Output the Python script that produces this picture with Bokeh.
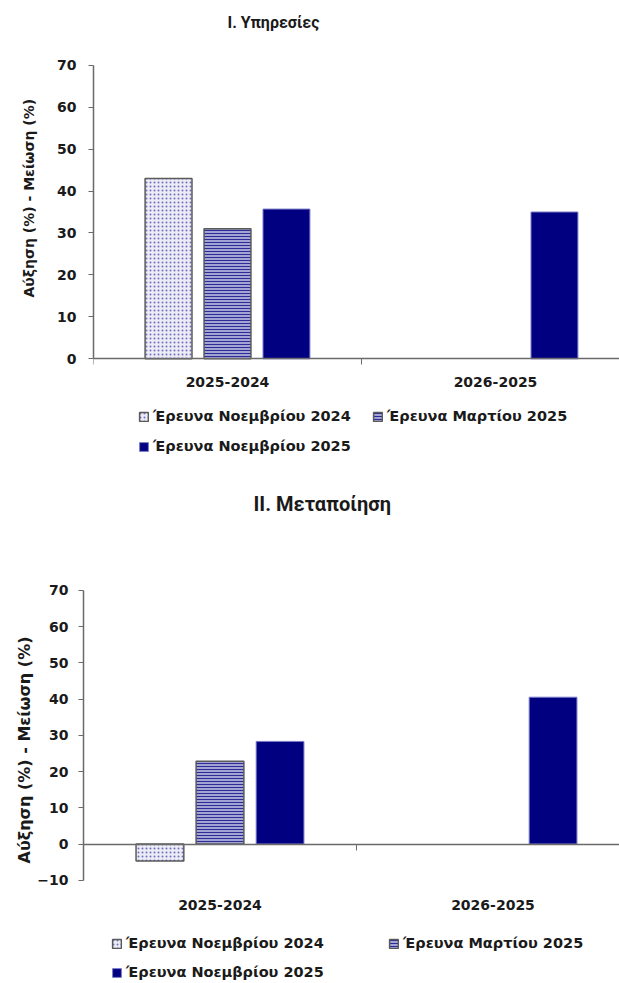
import math
from bokeh.plotting import figure
from bokeh.models import Range1d, FixedTicker, Legend, LegendItem, ColumnDataSource, Title
from bokeh.transform import dodge
from bokeh.layouts import column
from bokeh.embed import file_html
from bokeh.resources import INLINE

# ---------------- data ----------------
categories = ["2025-2024", "2026-2025"]
series_names = ["Έρευνα Νοεμβρίου 2024", "Έρευνα Μαρτίου 2025", "Έρευνα Νοεμβρίου 2025"]

services_nov2024 = [43.0, None]
services_mar2025 = [31.0, None]
services_nov2025 = [35.7, 35.0]

manuf_nov2024 = [-4.7, None]
manuf_mar2025 = [22.8, None]
manuf_nov2025 = [28.3, 40.5]

services_yticks = [0, 10, 20, 30, 40, 50, 60, 70]
manuf_yticks = [-10, 0, 10, 20, 30, 40, 50, 60, 70]

titles = ["I. Υπηρεσίες", "II. Μεταποίηση"]
y_label = "Αύξηση (%) - Μείωση (%)"

# ---------------- styles ----------------
FONT = "DejaVu Sans"
TXT = "#1a1a1a"
AX = "#6a6a6a"
styles = [
    dict(fill_color="#ececf6", hatch_pattern="dot", hatch_color="#7070c0", hatch_scale=4,
         hatch_weight=1, line_color="#5a5a5a", line_width=1.5),
    dict(fill_color="#a4a4d4", hatch_pattern="horizontal_line", hatch_color="#2c2c96",
         hatch_scale=3, hatch_weight=1, line_color="#5a5a5a", line_width=1.5),
    dict(fill_color="#000080", line_color="#7a7ac8", line_width=1),
]
offsets = [-0.22, 0.0, 0.22]
bar_w = 0.175


def nan(v):
    return [float("nan") if x is None else x for x in v]


def make_chart(title, vals, yticks, cfg):
    n = len(categories)
    centers = [i + 0.5 for i in range(n)]
    bounds = [float(i) for i in range(n + 1)]
    src = ColumnDataSource(dict(x=centers, s0=nan(vals[0]), s1=nan(vals[1]), s2=nan(vals[2])))

    p = figure(frame_width=cfg["fw"], frame_height=cfg["fh"],
               min_border_left=cfg["bl"], min_border_right=0,
               min_border_top=cfg["bt"], min_border_bottom=cfg["bb"],
               x_range=Range1d(0, cfg["xend"]), y_range=Range1d(cfg["ystart"], cfg["yend"]),
               output_backend="svg", toolbar_location=None, frame_align=False)
    p.xgrid.visible = False
    p.ygrid.visible = False
    p.outline_line_color = None
    p.background_fill_color = "white"
    p.border_fill_color = "white"

    # title
    p.title.text = title
    p.title.align = "left"
    p.title.offset = cfg["toff"]
    p.title.standoff = 5
    p.title.text_font = "Roboto"
    p.title.text_font_style = "bold"
    p.title.text_font_size = cfg["tsize"]
    p.title.text_color = TXT

    renderers = []
    for k in range(3):
        r = p.vbar(x=dodge("x", offsets[k], range=p.x_range), top="s%d" % k, bottom=0,
                   width=bar_w, source=src, **styles[k])
        renderers.append(r)

    # y axis
    ya = p.yaxis[0]
    ya.ticker = FixedTicker(ticks=yticks, minor_ticks=[])
    ya.bounds = (yticks[0], yticks[-1])
    ya.major_tick_out = 5
    ya.major_tick_in = 0
    ya.minor_tick_out = 0
    ya.minor_tick_in = 0
    ya.axis_line_color = AX
    ya.axis_line_width = 1.5
    ya.major_tick_line_color = AX
    ya.major_label_text_font = FONT
    ya.major_label_text_font_style = "bold"
    ya.major_label_text_font_size = "14px"
    ya.major_label_text_color = TXT
    ya.major_label_standoff = cfg["tlstand"]

    if cfg["ylmode"] == "title":
        # y axis title as a side title (positioned along the axis)
        yt = Title(text=y_label, align="left", offset=cfg["yloff"], standoff=cfg["ylstand"],
                   text_font=FONT, text_font_style="bold", text_font_size=cfg["ylsize"],
                   text_color=TXT)
        p.add_layout(yt, "left")
    else:
        ya.axis_label = y_label
        ya.axis_label_text_font = FONT
        ya.axis_label_text_font_style = "bold"
        ya.axis_label_text_font_size = cfg["ylsize"]
        ya.axis_label_text_color = TXT
        ya.axis_label_standoff = cfg["ylstand"]

    # x axis at zero (category labels + separator ticks)
    xa = p.xaxis[0]
    xa.fixed_location = 0
    xa.ticker = FixedTicker(ticks=centers, minor_ticks=bounds)
    xa.major_label_overrides = {c: lab for c, lab in zip(centers, categories)}
    xa.major_tick_out = 0
    xa.major_tick_in = 0
    xa.minor_tick_out = 6
    xa.minor_tick_in = 0
    xa.minor_tick_line_color = AX
    xa.axis_line_color = AX
    xa.axis_line_width = 1.5
    xa.major_label_text_font = FONT
    xa.major_label_text_font_style = "bold"
    xa.major_label_text_font_size = "14px"
    xa.major_label_text_color = TXT
    xa.major_label_standoff = cfg["xlstand"]

    items = [LegendItem(label=series_names[k], renderers=[renderers[k]]) for k in range(3)]
    leg = Legend(items=items, orientation="horizontal", ncols=2,
                 location=cfg["legloc"], margin=0, padding=0, spacing=cfg["lsp"],
                 glyph_width=11, glyph_height=11, label_standoff=4,
                 label_width=cfg["lw"], label_height=18,
                 border_line_color=None, background_fill_alpha=0)
    leg.label_text_font = FONT
    leg.label_text_font_style = "bold"
    leg.label_text_font_size = "14.5px"
    leg.label_text_color = TXT
    p.add_layout(leg, "center")
    return p


# chart I: 70 at y=64.7, 0 at y=358.3 (page px); frame 34..462
k1 = (358.3 - 64.7) / 70
cfg1 = dict(fw=526, fh=428, bl=93, bt=34, bb=8, xend=526 / 268,
            yend=70 + (64.7 - 34) / k1, ystart=-(462 - 358.3) / k1,
            toff=134, tsize="16px", tlstand=12,
            ylmode="title", yloff=165, ylstand=36, ylsize="14px", xlstand=12,
            legloc=(45, 7), lw=207, lsp=12)
# chart II: figure starts at 470; 70 at 589.75, 0 at 843.5; frame 518..981
k2 = 3.625
cfg2 = dict(fw=536, fh=463, bl=83, bt=48, bb=0, xend=536 / 273,
            yend=70 + (589.75 - 518) / k2, ystart=-(981 - 843.5) / k2,
            toff=170, tsize="20px", tlstand=10,
            ylmode="axis", yloff=0, ylstand=0, ylsize="16px", xlstand=50,
            legloc=(28, 0), lw=251, lsp=11)

p1 = make_chart(titles[0], [services_nov2024, services_mar2025, services_nov2025], services_yticks, cfg1)
p2 = make_chart(titles[1], [manuf_nov2024, manuf_mar2025, manuf_nov2025], manuf_yticks, cfg2)

layout = column(p1, p2, spacing=0)
open("out.html", "w").write(file_html(layout, INLINE))
